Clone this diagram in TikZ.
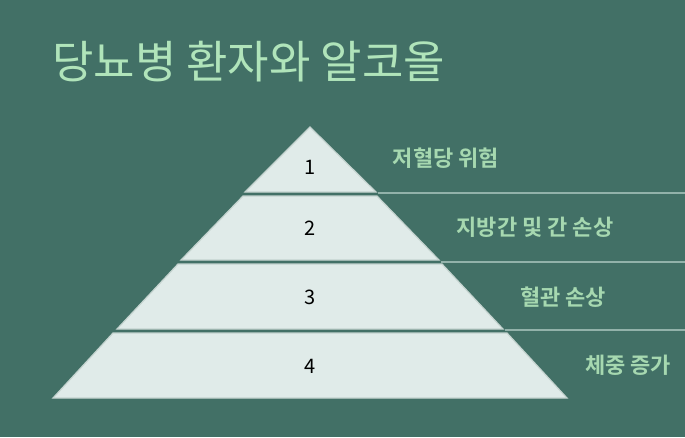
\documentclass[tikz,border=0pt]{standalone}
\usepackage{fontspec}
\setmainfont{Noto Sans CJK KR}
\newfontfamily\krbold{Noto Sans CJK KR Bold}
\usepackage{tikz}
\usetikzlibrary{positioning,calc}
\usepackage{xcolor}
\definecolor{bgteal}{RGB}{66,112,102}
\definecolor{titlegreen}{RGB}{176,228,186}
\definecolor{labelgreen}{RGB}{166,216,176}
\definecolor{layerfill}{RGB}{224,235,233}
\definecolor{layeredge}{RGB}{196,211,207}
\definecolor{guideline}{RGB}{146,178,170}

\begin{document}
\begin{tikzpicture}[x=1pt,y=-1pt,
  layer/.style={fill=layerfill,draw=layeredge,line width=1.2pt,line join=miter},
  num/.style={font=\fontsize{20}{22}\selectfont,text=black},
  risk/.style={font=\krbold\fontsize{22}{24}\selectfont,text=labelgreen},
  guide/.style={draw=guideline,line width=1.3pt}]
\fill[bgteal] (0,0) rectangle (685,437);
\useasboundingbox (0,0) rectangle (685,437);
% title
\node[anchor=west,inner sep=0pt,text=titlegreen,font=\fontsize{45}{50}\selectfont] (title) at (52,62) {당뇨병 환자와 알코올};
% pyramid layers
\draw[layer] (310,127) -- (376,192) -- (245,192) -- cycle;
\draw[layer] (243,196) -- (377,196) -- (439,260) -- (181,260) -- cycle;
\draw[layer] (178,264) -- (442,264) -- (503,329) -- (117,329) -- cycle;
\draw[layer] (113,333) -- (507,333) -- (567,398) -- (53,398) -- cycle;
\node[num] (n1) at (310,167) {1};
\node[num] (n2) at (310,228) {2};
\node[num] (n3) at (310,297) {3};
\node[num] (n4) at (310,366) {4};
% guide lines to the right edge
\coordinate (g1) at (378,193);
\coordinate (e1) at (685,193);
\coordinate (g2) at (441,262);
\coordinate (e2) at (685,262);
\coordinate (g3) at (505,330);
\coordinate (e3) at (685,330);
\draw[guide] (g1) -- (e1);
\draw[guide] (g2) -- (e2);
\draw[guide] (g3) -- (e3);
% risk labels
\node[risk] (r1) at (446,158) {저혈당 위험};
\node[risk] (r2) at (535,227) {지방간 및 간 손상};
\node[risk] (r3) at (563,297) {혈관 손상};
\node[risk] (r4) at (628,365) {체중 증가};
\end{tikzpicture}
\end{document}
